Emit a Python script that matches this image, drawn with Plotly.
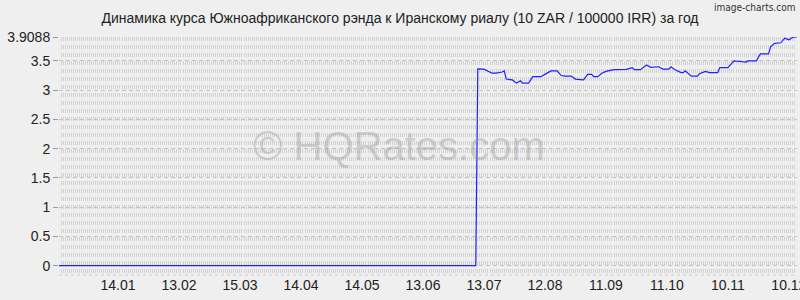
import plotly.graph_objects as go

title_text = "Динамика курса Южноафриканского рэнда к Иранскому риалу (10 ZAR / 100000 IRR) за год"

dates = [
    "2022-12-16", "2023-07-09", "2023-07-10", "2023-07-13", "2023-07-17", "2023-07-19",
    "2023-07-22", "2023-07-23", "2023-07-24", "2023-07-27", "2023-07-29", "2023-07-31",
    "2023-08-01", "2023-08-04", "2023-08-06", "2023-08-10", "2023-08-12", "2023-08-15",
    "2023-08-18", "2023-08-20", "2023-08-22", "2023-08-25", "2023-08-27", "2023-08-31",
    "2023-09-02", "2023-09-04", "2023-09-05", "2023-09-07", "2023-09-09", "2023-09-11",
    "2023-09-15", "2023-09-21", "2023-09-24", "2023-09-25", "2023-09-28", "2023-09-30",
    "2023-10-01", "2023-10-03", "2023-10-05", "2023-10-07", "2023-10-09", "2023-10-12",
    "2023-10-13", "2023-10-15", "2023-10-18", "2023-10-19", "2023-10-20", "2023-10-23",
    "2023-10-26", "2023-10-27", "2023-10-30", "2023-11-01", "2023-11-05", "2023-11-06",
    "2023-11-10", "2023-11-11", "2023-11-13", "2023-11-16", "2023-11-19", "2023-11-20",
    "2023-11-24", "2023-11-26", "2023-11-30", "2023-12-01", "2023-12-03", "2023-12-06",
    "2023-12-07", "2023-12-08", "2023-12-10", "2023-12-12", "2023-12-14",
]
rates = [
    0.0, 0.0, 3.363, 3.36, 3.29, 3.29,
    3.31, 3.33, 3.19, 3.175, 3.12, 3.16,
    3.12, 3.12, 3.23, 3.23, 3.27, 3.33,
    3.33, 3.25, 3.24, 3.24, 3.19, 3.175,
    3.27, 3.27, 3.23, 3.23, 3.29, 3.32,
    3.35, 3.355, 3.385, 3.35, 3.35, 3.41,
    3.43, 3.39, 3.39, 3.40, 3.36, 3.36,
    3.40, 3.35, 3.30, 3.30, 3.33, 3.24,
    3.24, 3.28, 3.32, 3.30, 3.30, 3.385,
    3.385, 3.43, 3.50, 3.49, 3.48, 3.50,
    3.50, 3.62, 3.62, 3.74, 3.80, 3.81,
    3.86, 3.89, 3.86, 3.905, 3.9088,
]

x_tick_dates = ["2023-01-14", "2023-02-13", "2023-03-15", "2023-04-14", "2023-05-14",
                "2023-06-13", "2023-07-13", "2023-08-12", "2023-09-11", "2023-10-11",
                "2023-11-10", "2023-12-10"]
x_tick_labels = ["14.01", "13.02", "15.03", "14.04", "14.05", "13.06", "13.07",
                 "12.08", "11.09", "11.10", "10.11", "10.12"]
y_tick_vals = [0, 0.5, 1, 1.5, 2, 2.5, 3, 3.5, 3.9088]
y_tick_labels = ["0", "0.5", "1", "1.5", "2", "2.5", "3", "3.5", "3.9088"]

x_range = ["2022-12-16", "2023-12-14"]
y_range = [-0.16, 3.9088]

FONT = "Liberation Sans, Arial, sans-serif"
BG = "#efefef"

fig = go.Figure()
fig.add_trace(go.Scatter(
    x=dates, y=rates, mode="lines",
    line=dict(color="#2020ff", width=1.2),
    hoverinfo="skip", showlegend=False,
))

fig.update_layout(
    width=800, height=300,
    margin=dict(l=59, r=3, t=37, b=25, autoexpand=False),
    paper_bgcolor=BG, plot_bgcolor=BG,
    font=dict(family=FONT, size=14, color="#222222"),
    title=dict(text=title_text, x=0.5, xref="container", xanchor="center",
               y=0.94, yref="container", yanchor="middle",
               font=dict(family=FONT, size=14, color="#222222")),
    xaxis=dict(
        type="date", range=x_range, automargin=False,
        tickvals=x_tick_dates, ticktext=x_tick_labels,
        showgrid=False, zeroline=False, showline=False, ticks="",
        ticklabeloverflow="allow",
        tickfont=dict(family=FONT, size=14, color="#222222"),
        minor=dict(dtick=86400000, showgrid=True, gridcolor="#d2d2d2",
                   gridwidth=1, griddash="4px,4px", ticks=""),
    ),
    yaxis=dict(
        range=y_range, tickvals=y_tick_vals, ticktext=y_tick_labels, automargin=False,
        showgrid=True, gridcolor="#c4c4c4", gridwidth=1, griddash="4px,3px",
        zeroline=False, showline=False,
        ticks="outside", ticklen=5, tickcolor="#999999",
        tickfont=dict(family=FONT, size=14, color="#222222"),
    ),
    shapes=[dict(type="line", xref="paper", yref="paper", x0=0, x1=1, y0=0, y1=0,
                 line=dict(color="#cccccc", width=1, dash="dot"), layer="below")],
    annotations=[
        dict(text="© HQRates.com", xref="paper", yref="paper", x=0.461, y=0.542,
             xanchor="center", yanchor="middle", showarrow=False,
             font=dict(family=FONT, size=40, color="rgba(150,150,150,0.4)")),
        dict(text="image-charts.com", xref="paper", yref="paper", x=1.0, y=1.126,
             xanchor="right", yanchor="middle", showarrow=False,
             font=dict(family="DejaVu Sans Condensed, DejaVu Sans", size=10, color="#333333")),
    ],
)

fig.write_html("out.html")
